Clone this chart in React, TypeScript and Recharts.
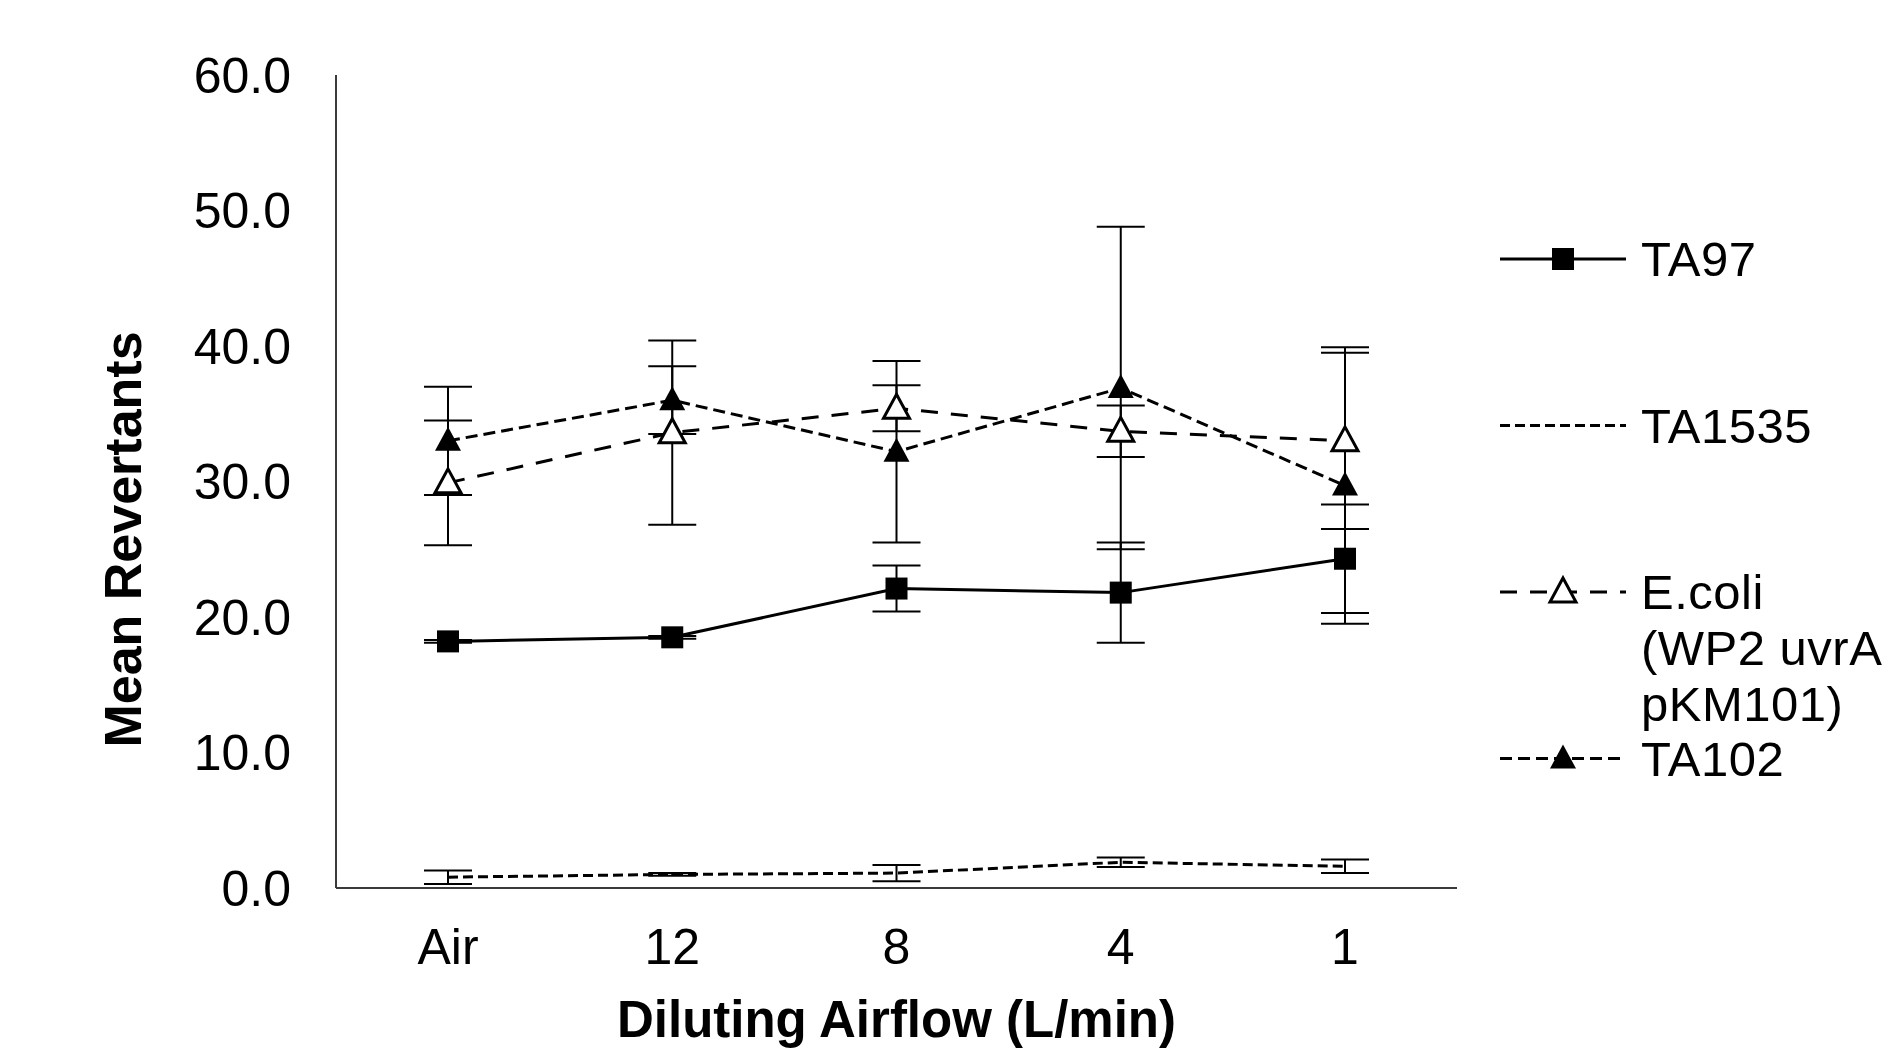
import React from "react";
import { LineChart, Line, XAxis, YAxis, ErrorBar, Label } from "recharts";

const CATEGORIES = ["Air", "12", "8", "4", "1"];

const TA97 = [18.2, 18.5, 22.1, 21.8, 24.3];
const TA97_ERR = [0.1, 0.1, 1.7, 3.7, 4.0];

const TA1535 = [0.8, 1.0, 1.1, 1.9, 1.6];
const TA1535_ERR = [0.5, 0.1, 0.6, 0.35, 0.5];

const ECOLI = [29.9, 33.6, 35.4, 33.7, 33.0];
const ECOLI_ERR = [4.6, 6.8, 1.7, 1.9, 6.5];

const TA102 = [33.0, 36.0, 32.2, 36.9, 29.7];
const TA102_ERR = [4.0, 2.5, 6.7, 11.9, 10.2];

const Y_TICKS = [0, 10, 20, 30, 40, 50, 60];

const LEGEND_LABELS = [["TA97"], ["TA1535"], ["E.coli", "(WP2 uvrA", "pKM101)"], ["TA102"]];

const data = CATEGORIES.map((name, i) => ({
  name,
  ta97: TA97[i],
  ta97Err: TA97_ERR[i],
  ta1535: TA1535[i],
  ta1535Err: TA1535_ERR[i],
  ecoli: ECOLI[i],
  ecoliErr: ECOLI_ERR[i],
  ta102: TA102[i],
  ta102Err: TA102_ERR[i],
}));

const FONT = '"Liberation Sans", Arial, sans-serif';
const INK = "#000";

type Marker = "square" | "open" | "filled" | "none";

function markerShape(kind: Marker, cx: number, cy: number, key?: string | number) {
  if (kind === "square") {
    return <rect key={key} x={cx - 11} y={cy - 11} width={22} height={22} fill={INK} />;
  }
  if (kind === "filled" || kind === "open") {
    const pts = `${cx},${cy - 14} ${cx + 13},${cy + 10} ${cx - 13},${cy + 10}`;
    return kind === "filled" ? (
      <polygon key={key} points={pts} fill={INK} />
    ) : (
      <polygon key={key} points={pts} fill="#fff" stroke={INK} strokeWidth={3} />
    );
  }
  return <g key={key} />;
}

const dotFor = (kind: Marker) => (p: any) => markerShape(kind, p.cx, p.cy, p.index);

const SERIES: { key: string; err: string; dash?: string; marker: Marker; width: number }[] = [
  { key: "ta97", err: "ta97Err", marker: "square", width: 3 },
  { key: "ta1535", err: "ta1535Err", dash: "10 5", marker: "none", width: 3 },
  { key: "ecoli", err: "ecoliErr", dash: "17 13", marker: "open", width: 3 },
  { key: "ta102", err: "ta102Err", dash: "12 6", marker: "filled", width: 3 },
];

function YTitle(props: any) {
  const vb = props.viewBox;
  const x = vb.x + 123;
  const y = vb.y + vb.height / 2 + 58;
  return (
    <text
      x={x}
      y={y}
      transform={`rotate(-90, ${x}, ${y})`}
      textAnchor="middle"
      dominantBaseline="central"
      fontFamily={FONT}
      fontWeight="bold"
      fontSize={52}
      fill={INK}
    >
      Mean Revertants
    </text>
  );
}

function XTitle(props: any) {
  const vb = props.viewBox;
  return (
    <text
      x={vb.x + vb.width / 2}
      y={vb.y + 149}
      textAnchor="middle"
      fontFamily={FONT}
      fontWeight="bold"
      fontSize={51}
      fill={INK}
    >
      Diluting Airflow (L/min)
    </text>
  );
}

function LegendOverlay() {
  return (
    <svg
      width={1894}
      height={1051}
      style={{ position: "absolute", left: 0, top: 0, pointerEvents: "none" }}
    >
      {SERIES.map((s, i) => {
        const y = 259 + i * 166.5;
        return (
          <g key={s.key}>
            <line
              x1={1500}
              x2={1626}
              y1={y}
              y2={y}
              stroke={INK}
              strokeWidth={3}
              strokeDasharray={s.dash}
            />
            {markerShape(s.marker, 1563, y)}
            {LEGEND_LABELS[i].map((t, j) => (
              <text
                key={t}
                x={1641}
                y={y + j * 56}
                dominantBaseline="central"
                fontFamily={FONT}
                fontSize={49}
                letterSpacing={0.5}
                fill={INK}
              >
                {t}
              </text>
            ))}
          </g>
        );
      })}
    </svg>
  );
}

export default function App() {
  return (
    <div style={{ position: "absolute", left: 0, top: 0, width: 1894, height: 1051, background: "#fff" }}>
      <LineChart
        width={1894}
        height={1051}
        data={data}
        margin={{ top: 75, right: 437, bottom: 0, left: 0 }}
      >
        <XAxis
          dataKey="name"
          height={163}
          padding={{ left: 112, right: 112 }}
          tickLine={false}
          tickSize={0}
          tickMargin={40}
          stroke="#3a3a3a"
          strokeWidth={2}
          tick={{ fill: INK, fontSize: 50, fontFamily: FONT }}
        >
          <Label content={XTitle} />
        </XAxis>
        <YAxis
          width={336}
          domain={[0, 60]}
          ticks={Y_TICKS}
          interval={0}
          tickFormatter={(v: number) => v.toFixed(1)}
          tickLine={false}
          tickSize={0}
          tickMargin={45}
          stroke="#3a3a3a"
          strokeWidth={2}
          tick={{ fill: INK, fontSize: 50, fontFamily: FONT }}
        >
          <Label content={YTitle} />
        </YAxis>
        {SERIES.map((s) => (
          <Line
            key={s.key}
            dataKey={s.key}
            stroke={INK}
            strokeWidth={s.width}
            strokeDasharray={s.dash}
            dot={dotFor(s.marker)}
            activeDot={false}
            isAnimationActive={false}
          >
            <ErrorBar
              dataKey={s.err}
              direction="y"
              width={24}
              stroke={INK}
              strokeWidth={2}
              isAnimationActive={false}
            />
          </Line>
        ))}
      </LineChart>
      <LegendOverlay />
    </div>
  );
}
